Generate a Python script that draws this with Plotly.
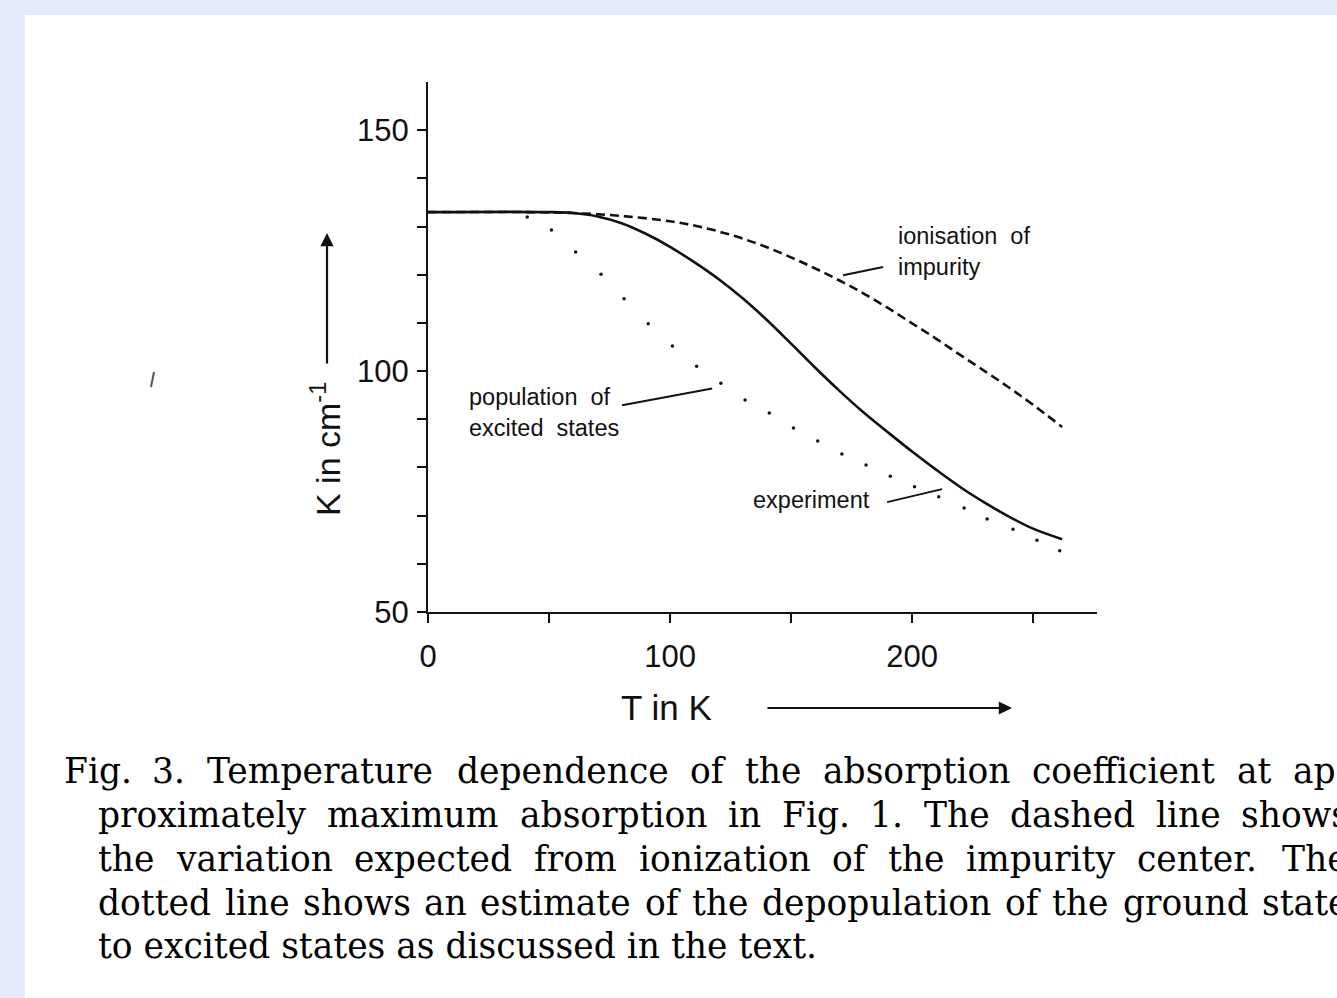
import plotly.graph_objects as go

# ---- data ----
T_exp = [0, 50, 60, 70, 80, 90, 100, 110, 120, 130, 140, 150, 160, 170, 180, 190, 200, 210, 220, 230, 240, 250, 262]
K_exp = [133, 133, 132.8, 132.1, 130.7, 128.5, 125.8, 122.6, 119.1, 115.1, 110.6, 105.7, 100.7, 95.9, 91.4, 87.3, 83.3, 79.5, 75.9, 72.7, 69.8, 67.3, 65.1]

T_ion = [0, 40, 60, 80, 100, 110, 120, 130, 140, 150, 160, 170, 180, 190, 200, 210, 220, 230, 240, 250, 262]
K_ion = [133, 133, 132.8, 132.2, 131.1, 130.2, 129.0, 127.5, 125.7, 123.6, 121.3, 118.8, 116.1, 113.1, 109.9, 106.7, 103.3, 100.0, 96.6, 93.0, 88.4]

T_pop = [41, 51, 61, 71.5, 81, 91, 101, 111, 121, 131, 141, 151, 161, 171, 181, 191, 201, 211, 221.5, 231, 241.7, 251.6, 261]
K_pop = [132, 129.3, 124.7, 120.1, 115, 109.8, 105.2, 101, 97.5, 94, 91.3, 88.2, 85.5, 82.8, 80.5, 78.2, 76, 73.9, 71.6, 69.3, 67.2, 64.9, 62.7]

x_tickvals = [0, 50, 100, 150, 200, 250]
x_ticktext = ["0", "", "100", "", "200", ""]
y_tickvals = [50, 60, 70, 80, 90, 100, 110, 120, 130, 140, 150]
y_ticktext = ["50", "", "", "", "", "100", "", "", "", "", "150"]

caption_lines = [
    "Fig. 3. Temperature dependence of the absorption coefficient at ap-",
    "proximately maximum absorption in Fig. 1.  The dashed line shows",
    "the variation expected from ionization of the impurity center.  The",
    "dotted line shows an estimate of the depopulation of the ground state",
    "to excited states as discussed in the text.",
]
caption_justified = [True, True, True, True, False]

# ---- layout geometry (pixels) ----
W, H = 1337, 998
ML, MR, MT, MB = 428, 240, 82, 386
PW, PH = W - ML - MR, H - MT - MB


def px(xp):
    return (xp - ML) / PW


def py(yp):
    return (H - MB - yp) / PH


SANS = "Liberation Sans, Arial, sans-serif"
SERIF = "DejaVu Serif, serif"
INK = "#111111"
CAP_SIZE = 34.5

# approximate advance widths of DejaVu Serif (units of 1/2048 em) for justifying caption lines
_W = {' ': 651, '.': 651, ',': 651, '-': 739, '1': 1303, '3': 1303, 'F': 1360, 'T': 1380,
      'a': 1221, 'b': 1300, 'c': 1139, 'd': 1300, 'e': 1212, 'f': 760, 'g': 1300, 'h': 1311,
      'i': 655, 'j': 625, 'k': 1245, 'l': 655, 'm': 1956, 'n': 1311, 'o': 1235, 'p': 1300,
      'q': 1300, 'r': 978, 's': 1047, 't': 821, 'u': 1311, 'v': 1155, 'w': 1684, 'x': 1155,
      'y': 1155, 'z': 1085}


def text_w(s, size):
    return sum(_W.get(c, 1200) for c in s) / 2048 * size


fig = go.Figure()
fig.add_trace(go.Scatter(x=T_ion, y=K_ion, mode="lines",
                         line=dict(color=INK, width=2.6, dash="9px,5px", shape="spline", smoothing=1.0),
                         name="ionisation of impurity", hoverinfo="skip"))
fig.add_trace(go.Scatter(x=T_exp, y=K_exp, mode="lines",
                         line=dict(color=INK, width=2.6, shape="spline", smoothing=1.0),
                         name="experiment", hoverinfo="skip"))
fig.add_trace(go.Scatter(x=T_pop, y=K_pop, mode="markers", marker=dict(color=INK, size=3.5),
                         name="population of excited states", hoverinfo="skip"))

shapes = [
    # white page panel over the light-blue margin
    dict(type="rect", xref="paper", yref="paper", x0=px(25), x1=px(1345), y0=py(1005), y1=py(15),
         fillcolor="white", line=dict(width=0), layer="below"),
    # leader lines
    dict(type="line", xref="x", yref="y", x0=171.5, y0=119.9, x1=188, y1=121.6, line=dict(color=INK, width=2)),
    dict(type="line", xref="x", yref="y", x0=80.2, y0=92.9, x1=117.4, y1=96.4, line=dict(color=INK, width=2)),
    dict(type="line", xref="x", yref="y", x0=189.7, y0=72.8, x1=212.4, y1=75.5, line=dict(color=INK, width=2)),
    # small scan speck at left
    dict(type="line", xref="paper", yref="paper", x0=px(154), y0=py(372), x1=px(151), y1=py(387),
         line=dict(color="#555555", width=2)),
]

LBL = dict(family=SANS, size=23.5, color=INK)
annotations = [
    dict(xref="x", yref="y", x=193.4, y=124.9, text="ionisation  of<br>impurity", showarrow=False,
         xanchor="left", yanchor="middle", align="left", font=LBL),
    dict(xref="x", yref="y", x=16.1, y=91.5, text="population  of<br>excited  states", showarrow=False,
         xanchor="left", yanchor="middle", align="left", font=LBL),
    dict(xref="x", yref="y", x=133.5, y=73.2, text="experiment", showarrow=False,
         xanchor="left", yanchor="middle", align="left", font=LBL),
    # axis titles
    dict(xref="paper", yref="paper", x=px(666), y=py(707), text="T in K", showarrow=False,
         xanchor="center", yanchor="middle", font=dict(family=SANS, size=35, color=INK)),
    dict(xref="paper", yref="paper", x=px(325), y=py(449), text="K in cm<sup>-1</sup>", showarrow=False,
         textangle=-90, xanchor="center", yanchor="middle", font=dict(family=SANS, size=34, color=INK)),
    # axis arrows
    dict(xref="paper", yref="paper", x=px(1012), y=py(708), ax=-246, ay=0, text="", showarrow=True,
         arrowhead=2, arrowsize=1.2, arrowwidth=2.2, arrowcolor=INK),
    dict(xref="paper", yref="paper", x=px(327), y=py(233), ax=0, ay=132, text="", showarrow=True,
         arrowhead=2, arrowsize=1.2, arrowwidth=2.2, arrowcolor=INK),
]

cap_y = [771, 815, 859, 903, 946]
cap_x = [63, 97, 97, 97, 97]
CAP_END = 1347
cap_font = dict(family=SERIF, size=CAP_SIZE, color="#000000")
for line, just, xx, yy in zip(caption_lines, caption_justified, cap_x, cap_y):
    if not just:
        annotations.append(dict(xref="paper", yref="paper", x=px(xx - 1), y=py(yy), text=line, showarrow=False,
                                xanchor="left", yanchor="middle", align="left", font=cap_font))
        continue
    words = line.split()
    widths = [text_w(w, CAP_SIZE) for w in words]
    gap = (CAP_END - xx - sum(widths)) / (len(words) - 1)
    cur = xx
    for w, ww in zip(words, widths):
        annotations.append(dict(xref="paper", yref="paper", x=px(cur - 1), y=py(yy), text=w, showarrow=False,
                                xanchor="left", yanchor="middle", align="left", font=cap_font))
        cur += ww + gap

fig.update_layout(
    width=W, height=H,
    margin=dict(l=ML, r=MR, t=MT, b=MB, pad=0),
    paper_bgcolor="#e2eafc",
    plot_bgcolor="rgba(0,0,0,0)",
    showlegend=False,
    shapes=shapes,
    annotations=annotations,
    xaxis=dict(range=[0, 276.4], tickvals=x_tickvals, ticktext=x_ticktext, ticks="outside", ticklen=9,
               tickwidth=2, tickcolor=INK, showline=True, linecolor=INK, linewidth=2.2, showgrid=False,
               zeroline=False, ticklabelstandoff=7, tickfont=dict(family=SANS, size=31, color=INK)),
    yaxis=dict(range=[50, 160], tickvals=y_tickvals, ticktext=y_ticktext, ticks="outside", ticklen=9,
               tickwidth=2, tickcolor=INK, showline=True, linecolor=INK, linewidth=2.2, showgrid=False,
               zeroline=False, ticklabelstandoff=2, tickfont=dict(family=SANS, size=31, color=INK)),
)

fig.write_html("out.html")
